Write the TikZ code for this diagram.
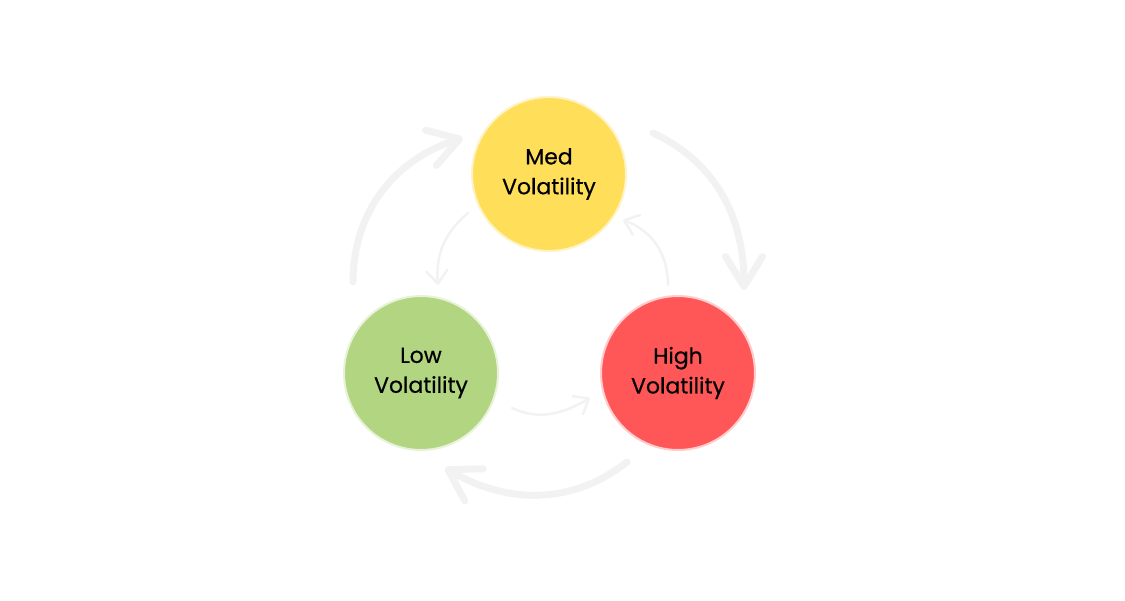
\documentclass[tikz,border=0pt]{standalone}
\usepackage{fontspec}
\setmainfont{Poppins}[FakeBold=0.5]
\usetikzlibrary{arrows.meta, positioning}
\definecolor{medColor}{HTML}{FFDE59}
\definecolor{lowColor}{HTML}{B1D580}
\definecolor{highColor}{HTML}{FF5757}
\definecolor{cycleColor}{HTML}{F2F2F2}
\tikzstyle{state} = [circle, minimum size=3.08cm, inner sep=0pt, align=center, line width=0.04cm, text=black, font=\fontsize{12.5}{17}\selectfont]
\tikzstyle{outercycle} = [draw=cycleColor, line width=0.14cm, line cap=round, -{Straight Barb[length=0.6cm, width=0.74cm, round]}]
\tikzstyle{innercycle} = [draw=cycleColor, line width=0.05cm, line cap=round, -{Straight Barb[length=0.26cm, width=0.42cm, round]}]

\begin{document}
\begin{tikzpicture}[x=0.02cm, y=0.02cm]
				\useasboundingbox (0,0) rectangle (1125,600);
				\node (med) [state, fill=medColor, draw=medColor!35!white] at (549,426) {Med\\Volatility};
				\node (low) [state, fill=lowColor, draw=lowColor!30!white] at (421,227) {Low\\Volatility};
				\node (high) [state, fill=highColor, draw=highColor!30!white] at (678,227) {High\\Volatility};
				
				\coordinate (lowout) at (353,318);
				\coordinate (medin) at (463,462);
				\coordinate (medout) at (653,467);
				\coordinate (highin) at (744,310);
				\coordinate (highout) at (627,138);
				\coordinate (lowin) at (445,132);
				
				\coordinate (medback) at (468,387);
				\coordinate (lowback) at (438,315);
				\coordinate (highback) at (668,315);
				\coordinate (medfrom) at (623,380);
				\coordinate (lowfrom) at (512,192);
				\coordinate (highfrom) at (590,202);
				
				\draw[outercycle] (lowout) to[out=90, in=197] (medin);
				\draw[outercycle] (medout) to[out=-25, in=90] (highin);
				\draw[outercycle] (highout) to[out=218, in=-30] (lowin);
				
				\draw[innercycle] (medback) to[out=220, in=95] (lowback);
				\draw[innercycle] (highback) to[out=90, in=-20] (medfrom);
				\draw[innercycle] (lowfrom) to[out=-25, in=210] (highfrom);
			\end{tikzpicture}
\end{document}
